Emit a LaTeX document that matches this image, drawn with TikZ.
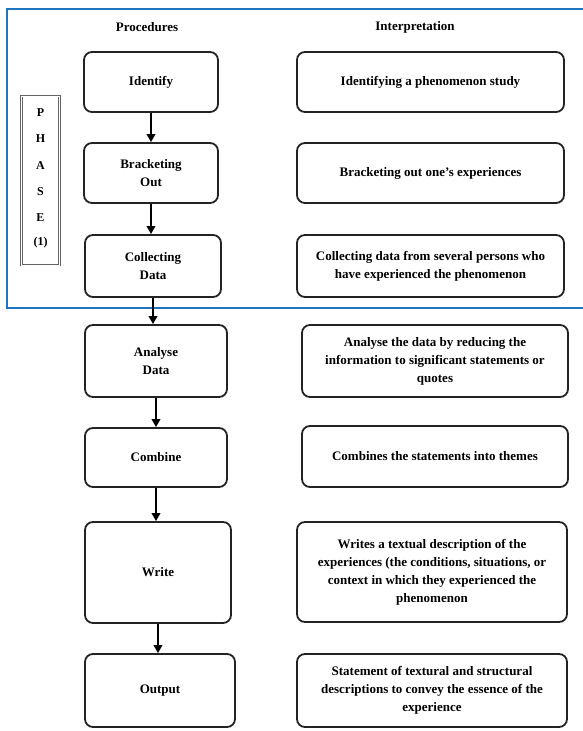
\documentclass[tikz,border=0pt]{standalone}
\usepackage{fontspec}
\setmainfont{Liberation Serif}
\usetikzlibrary{arrows.meta}
\definecolor{frameblue}{RGB}{30,115,195}
\definecolor{boxline}{RGB}{35,35,35}
\definecolor{phaseline}{RGB}{100,100,100}
\tikzset{
  flowbox/.style={draw=boxline, line width=1.8pt, rounded corners=8pt,
    align=center, inner sep=0pt,
    font=\fontsize{13}{18}\selectfont\bfseries},
  header/.style={font=\fontsize{13}{16}\selectfont\bfseries, inner sep=0pt},
  flowarrow/.style={draw=black, line width=1.8pt,
    -{Triangle[length=8pt,width=8.5pt]}},
  phasebox/.style={draw=phaseline, line width=0.9pt, double=white,
    double distance=0.8pt, inner sep=0pt, minimum width=38pt, minimum height=169pt},
  phaseletter/.style={font=\fontsize{12}{14}\selectfont\bfseries, inner sep=0pt}
}
\begin{document}
\begin{tikzpicture}[x=1pt,y=-1pt]
\useasboundingbox (0,0) rectangle (582,731);

% blue frame (open on the right)
\draw[frameblue, line width=2pt] (590,9) -- (7,9) -- (7,308) -- (590,308);

% headers
\node[header] (hproc) at (147,27) {Procedures};
\node[header] (hint) at (415,27) {Interpretation};

% phase box
\node[phasebox] (phase) at (40.5,180.5) {};
\node[phaseletter] (pP) at (40.5,113) {P};
\node[phaseletter] (pH) at (40.5,139) {H};
\node[phaseletter] (pA) at (40.5,165.5) {A};
\node[phaseletter] (pS) at (40.5,191.5) {S};
\node[phaseletter] (pE) at (40.5,217.5) {E};
\node[phaseletter] (p1) at (40.5,243) {(1)};

% procedure boxes
\node[flowbox, minimum width=134pt, minimum height=60pt] (id) at (151,82) {Identify};
\node[flowbox, minimum width=134pt, minimum height=60pt] (br) at (151,173) {Bracketing\\Out};
\node[flowbox, minimum width=136pt, minimum height=62pt] (cd) at (153,266) {Collecting\\Data};
\node[flowbox, minimum width=142pt, minimum height=72pt] (ad) at (156,361) {Analyse\\Data};
\node[flowbox, minimum width=142pt, minimum height=59pt] (co) at (156,457.5) {Combine};
\node[flowbox, minimum width=146pt, minimum height=101pt] (wr) at (158,572.5) {Write};
\node[flowbox, minimum width=150pt, minimum height=73pt] (ou) at (160,690.5) {Output};

% interpretation boxes
\node[flowbox, minimum width=267pt, minimum height=60pt] (i1) at (430.5,82) {Identifying a phenomenon study};
\node[flowbox, minimum width=267pt, minimum height=60pt] (i2) at (430.5,173) {Bracketing out one's experiences};
\node[flowbox, minimum width=267pt, minimum height=62pt] (i3) at (430.5,266) {Collecting data from several persons who\\have experienced the phenomenon};
\node[flowbox, minimum width=266pt, minimum height=72pt] (i4) at (435,361) {Analyse the data by reducing the\\information to significant statements or\\quotes};
\node[flowbox, minimum width=266pt, minimum height=61pt] (i5) at (435,456.5) {Combines the statements into themes};
\node[flowbox, minimum width=270pt, minimum height=100pt] (i6) at (432,572) {Writes a textual description of the\\experiences (the conditions, situations, or\\context in which they experienced the\\phenomenon};
\node[flowbox, minimum width=270pt, minimum height=73pt] (i7) at (432,690.5) {Statement of textural and structural\\descriptions to convey the essence of the\\experience};

% arrows
\draw[flowarrow] (id.south) -- (id.south |- br.north);
\draw[flowarrow] (br.south) -- (br.south |- cd.north);
\draw[flowarrow] (cd.south) -- (cd.south |- ad.north);
\draw[flowarrow] (ad.south) -- (ad.south |- co.north);
\draw[flowarrow] (co.south) -- (co.south |- wr.north);
\draw[flowarrow] (wr.south) -- (wr.south |- ou.north);
\end{tikzpicture}
\end{document}
